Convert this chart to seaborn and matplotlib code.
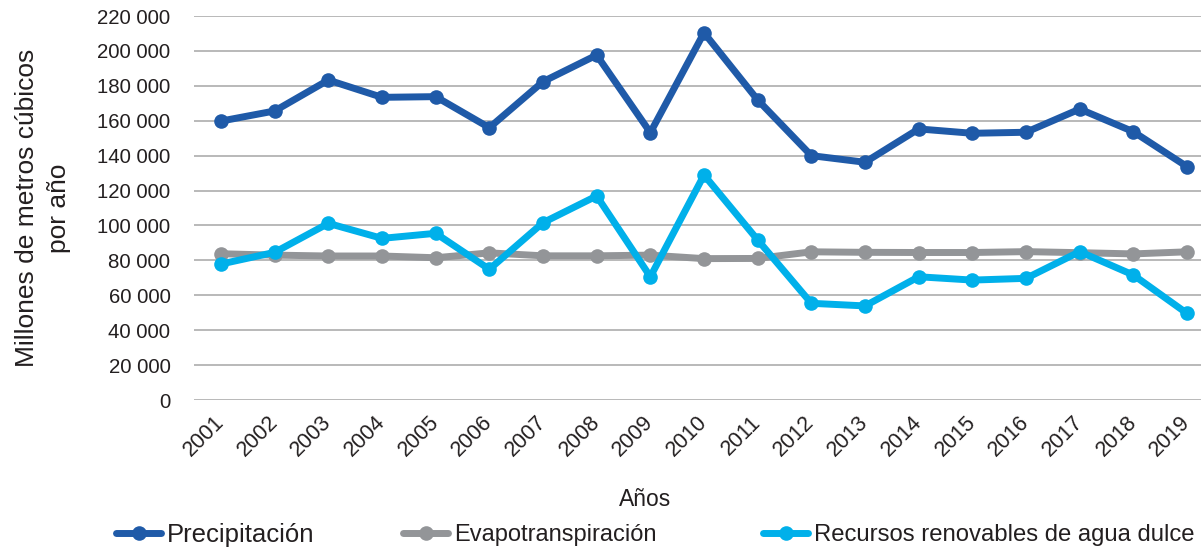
import matplotlib
matplotlib.use("Agg")
import matplotlib.pyplot as plt
import seaborn as sns
import pandas as pd
from matplotlib.ticker import FuncFormatter
from matplotlib.lines import Line2D

years = list(range(2001, 2020))
precipitacion = [159800, 165600, 183300, 173400, 173800, 156000, 182400, 197600, 153200, 210400,
                 171900, 140000, 136200, 155300, 152800, 153400, 166700, 153700, 133700]
evapotranspiracion = [83800, 83000, 82500, 82500, 81500, 84300, 82600, 82600, 83000, 81000,
                      81100, 84900, 84600, 84500, 84500, 85000, 84400, 83700, 84900]
recursos = [77900, 84600, 101200, 92600, 95500, 74900, 101600, 116900, 70600, 128900,
            91700, 55400, 53900, 70600, 68700, 69700, 85000, 71600, 49600]

series_names = ["Precipitación", "Evapotranspiración", "Recursos renovables de agua dulce"]
colors = ["#1F5AA8", "#939598", "#00B0EA"]
legend_sizes = [18.5, 17, 17.2]
legend_x_px = [116, 403, 763]

df = pd.concat([
    pd.DataFrame({"Año": years, "Valor": precipitacion, "Serie": series_names[0]}),
    pd.DataFrame({"Año": years, "Valor": evapotranspiracion, "Serie": series_names[1]}),
    pd.DataFrame({"Año": years, "Valor": recursos, "Serie": series_names[2]}),
])

sns.set_style("white")
plt.rcParams["font.family"] = ["Liberation Sans", "DejaVu Sans"]

W, H = 1201, 548
fig = plt.figure(figsize=(W / 100, H / 100), dpi=100)
ax = fig.add_axes([194 / W, (H - 400) / H, (W - 194) / W, (400 - 16) / H])

order = [series_names[1], series_names[0], series_names[2]]
for name in order:
    sub = df[df["Serie"] == name]
    sns.lineplot(data=sub, x="Año", y="Valor", ax=ax, color=colors[series_names.index(name)],
                 linewidth=5, marker="o", markersize=10.5, markeredgewidth=0,
                 legend=False, zorder=3)

ax.set_ylim(0, 220000)
ax.set_yticks(range(0, 220001, 20000))
ax.yaxis.set_major_formatter(FuncFormatter(lambda v, p: f"{int(v):,}".replace(",", " ")))
ax.set_xlim(2001 - 0.503, 2019 + 0.26)
ax.set_xticks(years)
ax.set_xticklabels([str(y) for y in years], rotation=45, ha="right", va="center",
                   rotation_mode="anchor")
ax.tick_params(axis="both", length=0, colors="#231f20")
ax.tick_params(axis="y", pad=17, labelsize=14.7)
ax.tick_params(axis="x", pad=14, labelsize=15.5)
ax.grid(axis="y", color="#a6a6a6", linewidth=1.1)
ax.set_axisbelow(True)
for s in ax.spines.values():
    s.set_visible(False)

ax.set_xlabel("Años", fontsize=16.5, color="#231f20")
ax.xaxis.set_label_coords((645 - 194) / (W - 194), -(499 - 400) / 384, transform=ax.transAxes)
ax.xaxis.label.set_va("center")
ax.set_ylabel("Millones de metros cúbicos\npor año", fontsize=19, color="#231f20",
              linespacing=1.4)
ax.yaxis.set_label_coords(-(194 - 43) / (W - 194), 0.5, transform=ax.transAxes)
ax.yaxis.label.set_va("center")

for name, c, fs, xp in zip(series_names, colors, legend_sizes, legend_x_px):
    em = fs * 100 / 72
    h = Line2D([], [], color=c, linewidth=5, marker="o", markersize=10.5, markeredgewidth=0)
    leg = fig.legend([h], [name], loc="center left", bbox_to_anchor=(xp / W, (H - 535) / H),
                     frameon=False, fontsize=fs, handlelength=45 / em, handletextpad=6 / em,
                     borderpad=0, borderaxespad=0)
    for t in leg.get_texts():
        t.set_color("#231f20")

fig.savefig("out.png", dpi=100)
